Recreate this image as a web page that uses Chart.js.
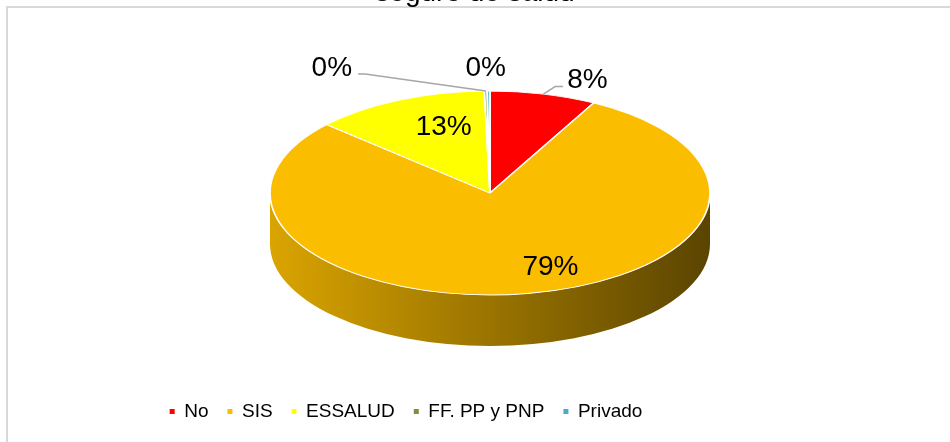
<!DOCTYPE html>
<html>
<head>
<meta charset="utf-8">
<script src="https://cdn.jsdelivr.net/npm/chart.js@4"></script>
<style>
html,body{margin:0;padding:0;background:#fff;overflow:hidden;width:950px;height:442px;}
#wrap{position:relative;width:950px;height:442px;overflow:hidden;background:#fff;}
#frame{position:absolute;left:6px;top:6px;width:1200px;height:1200px;border:2px solid #d9d9d9;box-sizing:border-box;}
#c{position:absolute;left:0;top:-24px;}
</style>
</head>
<body>
<div id="wrap">
  <div id="frame"></div>
  <canvas id="c" width="950" height="466"></canvas>
</div>
<script>
// ---- data ----
const TITLE_TEXT = 'seguro de salud';
const categories = ['No', 'SIS', 'ESSALUD', 'FF. PP y PNP', 'Privado'];
const percentValues = [7.8, 78.9, 12.9, 0.2, 0.2];

// ---- style ----
const sliceColors = ['#FF0000', '#FBBD00', '#FFFF00', '#77933C', '#4BACC6'];
const FONT = "'Liberation Sans', Arial, sans-serif";
const CANVAS_SHIFT = 24;          // canvas is moved up by this much (title cut at top)
const PIE = {cx: 490, cy: 193, rx: 220, ry: 102, depth: 51, sideLight: 0.87, sideDark: 0.36};
const LEGEND_DX = -69;
const LABEL_PLACE = ['out', 'in', 'in', 'out', 'out'];
const LABEL_IN_FRACTION = 0.7;
const LABEL_NUDGE = [[44, -16.5], [34, 1.5], [18, -3], [-154, -25], [-3, -25]];
const LABEL_FONT_SIZE = 28;

function shade(hex, k) {
  const n = parseInt(hex.slice(1), 16);
  const r = Math.round(((n >> 16) & 255) * k);
  const g = Math.round(((n >> 8) & 255) * k);
  const b = Math.round((n & 255) * k);
  return 'rgb(' + r + ',' + g + ',' + b + ')';
}

function frontParts(s, e) {
  const out = [];
  for (let k = -1; k <= 1; k++) {
    const lo = Math.max(s, 2 * Math.PI * k);
    const hi = Math.min(e, Math.PI + 2 * Math.PI * k);
    if (hi > lo) out.push([lo, hi]);
  }
  return out;
}

const pie3d = {
  id: 'pie3d',
  beforeDatasetsDraw(chart) {
    const ctx = chart.ctx;
    const meta = chart.getDatasetMeta(0);
    const a0 = meta.data[0];
    const R = a0.outerRadius;
    const cx = PIE.cx, cy = PIE.cy + CANVAS_SHIFT;
    // side walls (front half only)
    meta.data.forEach((arc, i) => {
      const col = sliceColors[i];
      frontParts(arc.startAngle, arc.endAngle).forEach(([s, e]) => {
        const g = ctx.createLinearGradient(cx - PIE.rx, 0, cx + PIE.rx, 0);
        g.addColorStop(0, shade(col, PIE.sideLight));
        g.addColorStop(1, shade(col, PIE.sideDark));
        ctx.beginPath();
        ctx.ellipse(cx, cy, PIE.rx, PIE.ry, 0, s, e, false);
        ctx.ellipse(cx, cy + PIE.depth, PIE.rx, PIE.ry, 0, e, s, true);
        ctx.closePath();
        ctx.fillStyle = g;
        ctx.fill();
      });
    });
    // squash the pie top into an ellipse
    ctx.save();
    ctx.translate(cx, cy);
    ctx.scale(PIE.rx / R, PIE.ry / R);
    ctx.translate(-a0.x, -a0.y);
  },
  afterDatasetsDraw(chart) {
    const ctx = chart.ctx;
    ctx.restore();
    const meta = chart.getDatasetMeta(0);
    const total = percentValues.reduce((a, b) => a + b, 0);
    const cx = PIE.cx, cy = PIE.cy + CANVAS_SHIFT;
    ctx.save();
    ctx.font = LABEL_FONT_SIZE + 'px ' + FONT;
    ctx.textAlign = 'center';
    ctx.textBaseline = 'alphabetic';
    meta.data.forEach((arc, i) => {
      const mid = (arc.startAngle + arc.endAngle) / 2;
      const f = LABEL_PLACE[i] === 'in' ? LABEL_IN_FRACTION : 1;
      const ax = cx + PIE.rx * f * Math.cos(mid);
      const ay = cy + PIE.ry * f * Math.sin(mid);
      const lx = ax + LABEL_NUDGE[i][0];
      const ly = ay + LABEL_NUDGE[i][1];
      const txt = Math.round(percentValues[i] / total * 100) + '%';
      const w = ctx.measureText(txt).width;
      if (LABEL_PLACE[i] === 'out' && Math.hypot(lx - ax, ly - ay) > 35) {
        let ex, ey, bx;
        if (lx > ax) { ex = lx - w / 2 - 4; ey = ly + 9; bx = ex - 8; }
        else { ex = lx + w / 2 + 6; ey = ly + 8; bx = ex + 7; }
        ctx.beginPath();
        ctx.moveTo(ax, ay);
        ctx.lineTo(bx, ey);
        ctx.lineTo(ex, ey);
        ctx.strokeStyle = '#a6a6a6';
        ctx.lineWidth = 1.5;
        ctx.stroke();
      }
      ctx.fillStyle = '#000000';
      ctx.fillText(txt, lx, ly + LABEL_FONT_SIZE * 0.716 / 2);
    });
    ctx.restore();
  }
};

const legendShift = {
  id: 'legendShift',
  afterLayout(chart) {
    const lg = chart.legend;
    if (lg) { lg.left += LEGEND_DX; lg.right += LEGEND_DX; }
  }
};

function legendLabels(chart) {
  const gen = Chart.overrides.doughnut.plugins.legend.labels.generateLabels;
  const items = gen(chart);
  items.forEach(it => { it.lineWidth = 0; it.strokeStyle = 'rgba(0,0,0,0)'; });
  return items;
}

new Chart(document.getElementById('c'), {
  type: 'pie',
  data: {
    labels: categories,
    datasets: [{
      data: percentValues,
      backgroundColor: sliceColors,
      borderColor: '#ffffff',
      borderWidth: 1.5,
      clip: false,
      hoverOffset: 0
    }]
  },
  options: {
    responsive: false,
    animation: false,
    events: [],
    devicePixelRatio: 1,
    layout: {padding: {top: 0, left: 0, right: 0, bottom: 11}},
    plugins: {
      title: {
        display: true,
        text: TITLE_TEXT,
        color: '#000000',
        font: {family: FONT, size: 28, weight: 'normal'},
        padding: {top: 0, bottom: 0}
      },
      legend: {
        position: 'bottom',
        labels: {
          color: '#000000',
          font: {family: FONT, size: 19},
          boxWidth: 5,
          boxHeight: 5,
          padding: 19,
          generateLabels: legendLabels
        }
      },
      tooltip: {enabled: false}
    }
  },
  plugins: [pie3d, legendShift]
});
</script>
</body>
</html>
